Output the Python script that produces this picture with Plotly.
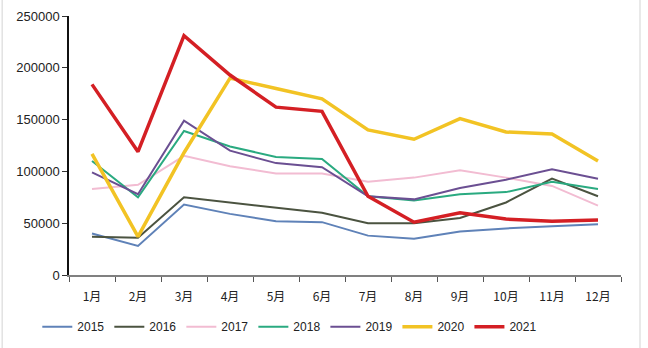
import plotly.graph_objects as go

months = ["1月", "2月", "3月", "4月", "5月", "6月", "7月", "8月", "9月", "10月", "11月", "12月"]
s2015 = [40000, 28000, 68000, 59000, 52000, 51000, 38000, 35000, 42000, 45000, 47000, 49000]
s2016 = [37000, 36000, 75000, 70000, 65000, 60000, 50000, 50000, 55000, 70000, 93000, 76000]
s2017 = [83000, 87000, 115000, 105000, 98000, 98000, 90000, 94000, 101000, 94000, 86000, 67000]
s2018 = [110000, 75000, 139000, 124000, 114000, 112000, 76000, 72000, 78000, 80000, 90000, 83000]
s2019 = [99000, 78000, 149000, 120000, 108000, 104000, 76000, 73000, 84000, 92000, 102000, 93000]
s2020 = [117000, 37000, 118000, 190000, 180000, 170000, 140000, 131000, 151000, 138000, 136000, 110000]
s2021 = [184000, 119000, 231000, 193000, 162000, 158000, 76000, 51000, 60000, 54000, 52000, 53000]

series = [
    ("2015", s2015, "#5f82b8", 2),
    ("2016", s2016, "#4b5340", 2),
    ("2017", s2017, "#f2bcd2", 2),
    ("2018", s2018, "#2aaa80", 2),
    ("2019", s2019, "#6b4f92", 2),
    ("2020", s2020, "#f2c324", 3.5),
    ("2021", s2021, "#d41f24", 3.5),
]

fig = go.Figure()
for name, vals, color, w in series:
    fig.add_trace(go.Scatter(x=months, y=vals, name=name, mode="lines",
                             line=dict(color=color, width=w)))

fig.update_layout(
    width=648, height=348,
    margin=dict(l=69, r=27, t=16, b=73, autoexpand=False),
    paper_bgcolor="white", plot_bgcolor="white",
    font=dict(family="Noto Sans CJK SC, Liberation Sans, sans-serif", size=12, color="#222"),
    showlegend=True,
    legend=dict(orientation="h", x=0.40, xanchor="center", y=-0.2, yanchor="middle",
                font=dict(size=12, family="Liberation Sans, sans-serif"),
                itemwidth=30, tracegroupgap=0),
    xaxis=dict(type="category", range=[-0.5, 11.5], showgrid=False, automargin=False,
               showline=True, linecolor="#808080", linewidth=2,
               ticks="outside", tickson="boundaries", ticklen=5, tickcolor="#555",
               ticklabelstandoff=10,
               tickfont=dict(size=12)),
    yaxis=dict(range=[0, 250000], dtick=50000, tickformat="d", showgrid=False, zeroline=False,
               automargin=False,
               showline=True, linecolor="#111", linewidth=1.5,
               ticks="outside", ticklen=5, tickcolor="#333",
               tickfont=dict(size=13, family="Liberation Sans, sans-serif")),
    shapes=[dict(type="rect", xref="paper", yref="paper",
                 x0=-0.121, x1=1.0344, y0=-0.3, y1=1.07,
                 line=dict(color="#e2e2e2", width=1.5))],
)

fig.write_html("out.html")
